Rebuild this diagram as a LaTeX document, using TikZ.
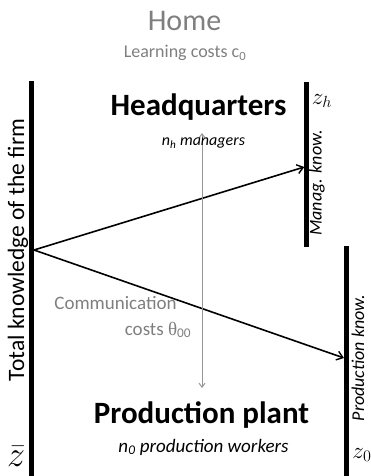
\documentclass[tikz,border=0pt]{standalone}
\usepackage{fontspec}
\setmainfont{Carlito}
\newfontfamily\serifth{Liberation Serif}
\usetikzlibrary{arrows.meta}
\definecolor{txtgrey}{RGB}{127,127,127}
\definecolor{arrgrey}{RGB}{150,150,150}
\tikzset{
  bar/.style={line width=5pt},
  link/.style={line width=1.6pt,-{Straight Barb[length=6pt,width=9pt,line width=1.4pt]}},
  commarrow/.style={line width=1pt,draw=arrgrey,{Straight Barb[length=4pt,width=6pt]}-{Straight Barb[length=4pt,width=6pt]}},
  lbl/.style={inner sep=0pt,anchor=base},
  rlbl/.style={inner sep=0pt,rotate=90,anchor=center},
  mathlbl/.style={inner sep=0pt,font=\fs{20.74},scale=1.12},
}
\newcommand{\fs}[1]{\fontsize{#1}{#1}\selectfont}
\begin{document}
\begin{tikzpicture}[x=1pt,y=-1pt]
\useasboundingbox (0,0) rectangle (371,476);
% bars
\draw[bar] (31.5,81) -- (31.5,476);
\draw[bar] (306.8,82) -- (306.8,246.7);
\draw[bar] (346.5,246) -- (346.5,476);
% coordinates
\coordinate (src) at (34,250);
\coordinate (hqend) at (304.3,167);
\coordinate (plend) at (344,358);
\coordinate (ctop) at (202,133);
\coordinate (cbot) at (202,388);
% connectors
\draw[link] (src) -- (hqend);
\draw[link] (src) -- (plend);
\draw[commarrow] (ctop) -- (cbot);
% texts
\node[lbl,text=txtgrey,font=\fs{30}] (home) at (184.5,31) {Home};
\node[lbl,text=txtgrey,font=\fs{18}] (learn) at (185,58) {Learning costs c\textsubscript{0}};
\node[lbl,font=\fs{31}\bfseries] (hq) at (198.5,115) {Headquarters};
\node[lbl,font=\fs{16}\itshape] (nh) at (203.5,146) {n\textsubscript{h} managers};
\node[lbl,font=\fs{31}\bfseries] (pp) at (201.5,423) {Production plant};
\node[lbl,font=\fs{19}\itshape] (n0) at (203.5,452) {n\textsubscript{0} production workers};
\node[rlbl,font=\fs{23.5}] (tk) at (18,250) {Total knowledge of the firm};
\node[rlbl,font=\fs{18}\itshape] (mk) at (317,183) {Manag. know.};
\node[rlbl,font=\fs{18}\itshape] (pk) at (358,358) {Production know.};
\node[inner sep=0pt,text=txtgrey,font=\fs{19}] (comm) at (115.5,303) {Communication};
\node[inner sep=0pt,text=txtgrey,font=\fs{19}] (cost) at (158,330) {costs {\serifth θ}\textsubscript{00}};
\node[mathlbl] (zh) at (322,101) {$z_h$};
\node[mathlbl] (z0) at (362,455) {$z_0$};
\node[mathlbl,scale=1.55] (zb) at (16,456) {$\bar{z}$};
\end{tikzpicture}
\end{document}
